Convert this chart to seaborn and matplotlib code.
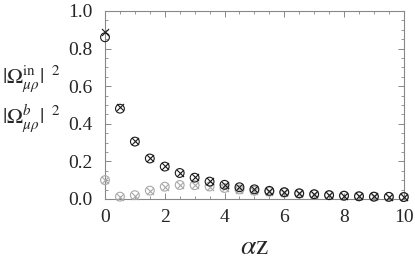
import numpy as np
import pandas as pd
import seaborn as sns
import matplotlib
matplotlib.use("Agg")
import matplotlib.pyplot as plt
from matplotlib.ticker import MultipleLocator

az = [0, 0.5, 1, 1.5, 2, 2.5, 3, 3.5, 4, 4.5, 5, 5.5, 6, 6.5, 7, 7.5, 8, 8.5, 9, 9.5, 10]
in_circle = [0.86, 0.48, 0.305, 0.215, 0.172, 0.138, 0.113, 0.092, 0.075, 0.062, 0.051, 0.043, 0.036, 0.030, 0.025, 0.020, 0.017, 0.014, 0.012, 0.011, 0.010]
in_cross = [0.89, 0.49, 0.31, 0.22, 0.175, 0.14, 0.115, 0.094, 0.076, 0.063, 0.052, 0.044, 0.037, 0.031, 0.026, 0.021, 0.018, 0.015, 0.013, 0.011, 0.010]
b_circle = [0.10, 0.012, 0.02, 0.044, 0.065, 0.074, 0.073, 0.066, 0.058, 0.050, 0.043, 0.038, 0.033, 0.028, 0.024, 0.020, 0.017, 0.014, 0.012, 0.011, 0.010]
b_cross = [0.10, 0.010, 0.018, 0.042, 0.063, 0.072, 0.072, 0.065, 0.057, 0.049, 0.042, 0.037, 0.032, 0.027, 0.023, 0.019, 0.016, 0.014, 0.012, 0.011, 0.010]

sns.set_style("ticks")
plt.rcParams["font.family"] = ["Liberation Serif", "DejaVu Serif"]
plt.rcParams["mathtext.fontset"] = "stix"

fig = plt.figure(figsize=(4.15, 2.67), dpi=100)
ax = fig.add_axes([0.253, 0.255, 0.720, 0.704])

gray = "#a8a8a8"
dark = "#1a1a1a"
common = dict(ax=ax, clip_on=False)
sns.scatterplot(x=az, y=b_circle, marker="o", s=40, facecolors="none",
                edgecolor=gray, linewidth=0.8, zorder=3, **common)
sns.scatterplot(x=az, y=b_cross, marker="x", s=26, color=gray,
                linewidth=0.8, zorder=3, **common)
sns.scatterplot(x=az, y=in_circle, marker="o", s=40, facecolors="none",
                edgecolor=dark, linewidth=0.8, zorder=4, **common)
sns.scatterplot(x=az, y=in_cross, marker="x", s=26, color=dark,
                linewidth=0.8, zorder=4, **common)

ax.set_xlim(0, 10)
ax.set_ylim(0, 1.0)
ax.xaxis.set_major_locator(MultipleLocator(2))
ax.xaxis.set_minor_locator(MultipleLocator(0.5))
ax.yaxis.set_major_locator(MultipleLocator(0.2))
ax.yaxis.set_minor_locator(MultipleLocator(0.05))
ax.yaxis.set_major_formatter(matplotlib.ticker.FormatStrFormatter("%.1f"))
ax.tick_params(which="both", direction="in", top=True, right=True,
               color="#888888", labelsize=14)
ax.tick_params(axis="y", pad=9)
ax.tick_params(axis="x", pad=7)
ax.tick_params(which="major", length=4, width=0.7)
ax.tick_params(which="minor", length=2, width=0.6)
for sp in ax.spines.values():
    sp.set_visible(True)
    sp.set_color("#888888")
    sp.set_linewidth(0.8)

ax.set_xlabel(r"$\alpha\mathrm{z}$", fontsize=20, labelpad=7)
fig.text(0.004, 0.705, r"$|\Omega_{\mu\rho}^{\mathrm{in}}|^{\ \ 2}$", fontsize=15.5, va="center", ha="left")
fig.text(0.004, 0.558, r"$|\Omega_{\mu\rho}^{b}|^{\ \ 2}$", fontsize=15.5, va="center", ha="left")

fig.savefig("out.png", dpi=100)
